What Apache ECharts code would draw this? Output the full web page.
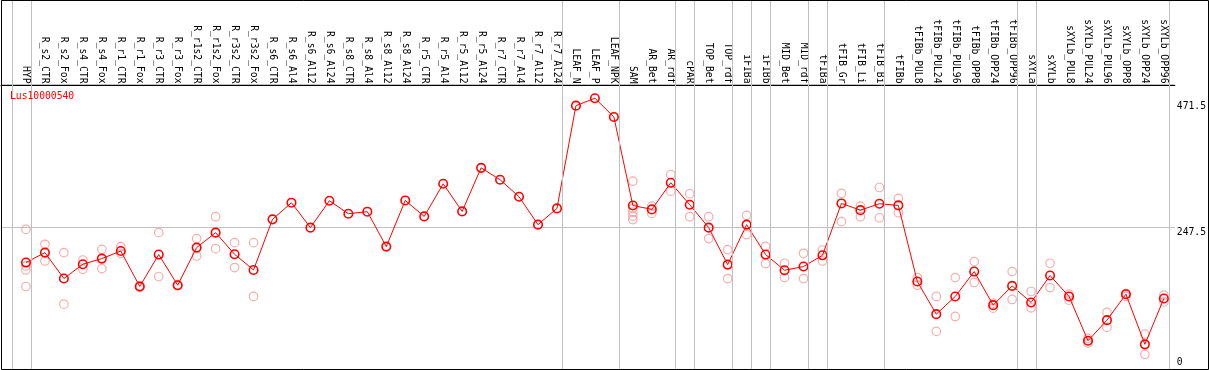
<!DOCTYPE html>
<html>
<head>
<meta charset="utf-8">
<script src="https://cdn.jsdelivr.net/npm/echarts@6/dist/echarts.min.js"></script>
<style>
html,body{margin:0;padding:0;background:#fff;}
#chart{width:1209px;height:370px;}
</style>
</head>
<body>
<div id="chart"></div>
<script>
const title = 'Lus10000540';
const categories = ['HYP','R_s2_CTR','R_s2_Fox','R_s4_CTR','R_s4_Fox','R_r1_CTR','R_r1_Fox','R_r3_CTR','R_r3_Fox','R_r1s2_CTR','R_r1s2_Fox','R_r3s2_CTR','R_r3s2_Fox','R_s6_CTR','R_s6_Al4','R_s6_Al12','R_s6_Al24','R_s8_CTR','R_s8_Al4','R_s8_Al12','R_s8_Al24','R_r5_CTR','R_r5_Al4','R_r5_Al12','R_r5_Al24','R_r7_CTR','R_r7_Al4','R_r7_Al12','R_r7_Al24','LEAF_N','LEAF_P','LEAF_NPK','SAM','AR_Bet','AR_rdf','cPAR','TOP_Bet','TOP_rdf','iFIBa','iFIBb','MID_Bet','MID_rdf','tFIBa','tFIB_Gr','tFIB_Li','tFIB_Bi','tFIBb','tFIBb_PUL8','tFIBb_PUL24','tFIBb_PUL96','tFIBb_OPP8','tFIBb_OPP24','tFIBb_OPP96','sXYLa','sXYLb','sXYLb_PUL8','sXYLb_PUL24','sXYLb_PUL96','sXYLb_OPP8','sXYLb_OPP24','sXYLb_OPP96'];
const means = [186.4,203.7,158.7,183.5,193.3,206.5,144.9,200.3,147.1,212.4,238.3,200.8,173.6,261.4,290.3,247.0,293.7,271.2,274.7,214.1,294.2,266.5,323.1,275.2,350.8,330.1,300.6,252.2,280.4,458.7,471.5,439.1,285.5,278.7,324.9,286.8,247.0,182.9,252.2,200.3,173.1,179.5,199.0,289.0,277.4,288.5,285.6,153.5,96.9,127.6,170.8,112.5,145.9,117.2,163.9,127.6,50.7,86.5,131.5,44.5,124.1];
const replicates = [
  [244,180.5,173.6,144.9],[218.1,189.2],[203.7,114.2],[190.9,174.8],[209.4,176],[214.1,202.5],[143.5,146.5],[238.3,162.2],[146,148],[227.9,197.8],[266,210.6],[221,177.8],[221,127.6],
  [],[],[],[],[],[],[],[],[],[],[],[],[],[],[],[],[],[],[],
  [327.6,280.7,273.8,266.9,261.0],[284.4,271.7],[339.2,310.3],[305.8,266],[266,228],[208.9,158.7],[268.3,234.9],[214.6,184.7],[185.2,160.4],[202.5,158.7],[208.2,189.2],[306.3,257.4],[284.4,266],[316.7,264.2],
  [297.7,272.9],[160.4,147.1],[127.6,67],[160.4,92.9],[188.1,151.8],[116,107.3],[170.8,122.4],[136.2,107.8],[185.2,143.1],[131.5,121.2],[54.9,46.7],[99.9,73.9],[132.8,127.6],[62.3,27.2],[129.8,118.2]
];
const groupEnds = [-1,0,28,31,34,35,37,38,39,41,42,45,52,53,60];
const upperTickLabels = [247.5, 471.5];
const lowerTickLabels = [0];

const FONT = 'DejaVu Sans Mono';
const RED = '#ff0000';
const PALE = '#f29a9a';
const GRIDC = '#c0c0c0';

const meanData = means.map((v, i) => [i, v]);
const repData = [];
replicates.forEach((arr, i) => arr.forEach(v => repData.push([i, v])));
const sepLines = groupEnds.map(g => ({ xAxis: g + 0.26 }));

const chart = echarts.init(document.getElementById('chart'), null, { renderer: 'canvas' });
chart.setOption({
  animation: false,
  backgroundColor: '#fff',
  title: {
    text: title, left: 10, top: 91, padding: 0,
    textStyle: { color: RED, fontFamily: FONT, fontSize: 9.7, fontWeight: 'normal' }
  },
  grid: { left: 1, right: 32, top: 0, height: 371, containLabel: false },
  xAxis: {
    type: 'value', position: 'top', offset: -85,
    min: -1.3158, max: 60.579,
    axisLine: { show: true, onZero: false, lineStyle: { color: '#000', width: 1 } },
    axisTick: { show: false },
    splitLine: { show: false },
    axisLabel: {
      customValues: categories.map((_, i) => i),
      formatter: v => categories[Math.round(v)] || '',
      rotate: 90, margin: 1.5,
      fontFamily: FONT, fontSize: 9.7, color: '#000'
    }
  },
  yAxis: [
    {
      type: 'value', position: 'right', min: 0, max: 642, interval: 247.5,
      axisLine: { show: false }, axisTick: { show: false },
      splitLine: { show: true, lineStyle: { color: GRIDC, width: 1 } },
      axisLabel: {
        customValues: upperTickLabels, margin: 2, verticalAlign: 'top',
        formatter: v => v === 471.5 ? '{a|' + v + '}' : '{b|' + v + '}',
        rich: {
          a: { fontFamily: FONT, fontSize: 9.7, color: '#000', padding: [3, 0, 0, 0] },
          b: { fontFamily: FONT, fontSize: 9.7, color: '#000' }
        },
        fontFamily: FONT, fontSize: 9.7, color: '#000'
      }
    },
    {
      type: 'value', position: 'right', min: 0, max: 642,
      axisLine: { show: false }, axisTick: { show: false },
      splitLine: { show: false },
      axisLabel: {
        customValues: lowerTickLabels, margin: 2, verticalAlign: 'bottom',
        formatter: v => '{c|' + v + '}',
        rich: { c: { fontFamily: FONT, fontSize: 9.7, color: '#000', padding: [0, 0, 3, 0] } },
        fontFamily: FONT, fontSize: 9.7, color: '#000'
      }
    }
  ],
  graphic: [{
    type: 'rect', silent: true, z: 100,
    shape: { x: 1.5, y: 0.5, width: 1207, height: 369 },
    style: { fill: 'none', stroke: '#000', lineWidth: 1 }
  }],
  series: [
    {
      type: 'scatter', yAxisIndex: 1, z: 1, data: repData,
      symbol: 'circle', symbolSize: 8.5,
      itemStyle: { color: 'rgba(0,0,0,0)', borderColor: PALE, borderWidth: 1.2 },
      markLine: {
        silent: true, symbol: ['none', 'none'], label: { show: false },
        lineStyle: { color: GRIDC, width: 1, type: 'solid' },
        data: sepLines
      }
    },
    {
      type: 'line', yAxisIndex: 0, z: 3, data: meanData,
      symbol: 'circle', symbolSize: 8.5, showAllSymbol: true,
      lineStyle: { color: RED, width: 1 },
      itemStyle: { color: 'rgba(0,0,0,0)', borderColor: RED, borderWidth: 1.6 }
    }
  ]
});
</script>
</body>
</html>
